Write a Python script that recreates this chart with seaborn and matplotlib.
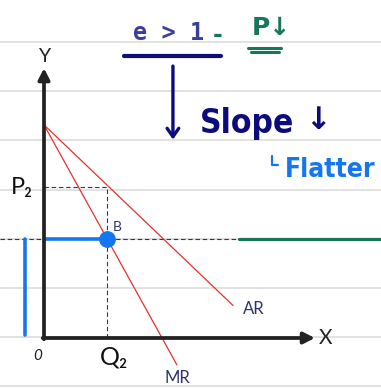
import numpy as np
import pandas as pd
import seaborn as sns
import matplotlib.pyplot as plt

sns.set_theme(style="white")
plt.rcParams['font.family'] = ['DejaVu Sans']

# Revenue curves (quantity, price)
ar_q = [0.0, 9.0]
ar_p = [10.15, 1.55]
mr_q = [0.0, 6.33]
mr_p = [10.15, -1.28]

# Equilibrium point B
q2 = 3.0
p2 = 7.2
p_b = 4.7

# Notebook ruling (price units)
ruling = [14.1, 11.76, 9.43, 7.05, 4.71, 2.38, 0.05, -2.29]

NAVY = "#2b3470"
INK = "#0c0c7c"
GREEN = "#17755a"
BLUE = "#1477f0"
RED = "#e8302c"
AXIS = "#222222"

fig = plt.figure(figsize=(3.81, 3.89), dpi=100)
ax = fig.add_axes([0, 0, 1, 1])
U = 21.0  # pixels per unit
ax.set_xlim(-44 / U, 337 / U)
ax.set_ylim(-51 / U, 338 / U)
ax.axis("off")

for y in ruling:
    ax.axhline(y, color="#d9d9d9", lw=1.1, zorder=0)

# AR and MR lines
ar = pd.DataFrame({"Q": ar_q, "P": ar_p})
mr = pd.DataFrame({"Q": mr_q, "P": mr_p})
sns.lineplot(data=ar, x="Q", y="P", color=RED, lw=0.9, ax=ax, zorder=3)
sns.lineplot(data=mr, x="Q", y="P", color=RED, lw=0.9, ax=ax, zorder=3)

# guide lines
ax.plot([0, q2], [p2, p2], color=NAVY, lw=0.8, dashes=(4, 2.5), zorder=2)
ax.plot([q2, q2], [0, p2], color=NAVY, lw=0.8, dashes=(4, 2.5), zorder=2)
ax.plot([-44 / U, 9.3], [p_b, p_b], color=NAVY, lw=0.8, dashes=(4, 2.5), zorder=2)
ax.plot([9.3, 337 / U], [p_b, p_b], color=GREEN, lw=2.3, solid_capstyle="round", zorder=2)

# highlighted price at B
ax.plot([0, q2], [p_b, p_b], color=BLUE, lw=2.6, solid_capstyle="butt", zorder=4)
ax.plot([-0.9, -0.9], [p_b, 0.15], color=BLUE, lw=2.6, solid_capstyle="round", zorder=4)
sns.scatterplot(x=[q2], y=[p_b], s=125, color=BLUE, edgecolor=BLUE, ax=ax, zorder=5)

# axes with arrows
arrow = dict(arrowstyle="-|>,head_length=0.55,head_width=0.28", lw=2.7,
             color=AXIS, shrinkA=0, shrinkB=0)
ax.annotate("", xy=(0, 12.85), xytext=(0, -0.06), arrowprops=arrow, zorder=6)
ax.annotate("", xy=(12.9, 0), xytext=(-0.06, 0), arrowprops=arrow, zorder=6)

lab = dict(family=["Lato", "DejaVu Sans"], ha="center", va="center")
ax.text(0.05, 13.4, "Y", fontsize=14, color=AXIS, **lab)
ax.text(13.4, 0.0, "X", fontsize=15, color=AXIS, **lab)
ax.text(-0.3, -0.85, "0", fontsize=11, color=AXIS, style="italic", **lab)
ax.text(3.35, -0.9, "Q\u2082", fontsize=18, color="#111111", **lab)
ax.text(-1.05, 7.15, "P\u2082", fontsize=17, color="#111111", **lab)
ax.text(3.5, 5.3, "B", fontsize=10, color=NAVY, **lab)
ax.text(10.0, 1.38, "AR", fontsize=12, color=NAVY, **lab)
ax.text(6.35, -1.9, "MR", fontsize=12, color=NAVY, **lab)

# notes
ax.text(5.95, 14.5, "e > 1", fontsize=17, color="#3a3f9a", fontweight="bold",
        family=["DejaVu Sans Mono"], ha="center", va="center")
ax.text(8.25, 14.45, "-", fontsize=17, color=GREEN, fontweight="bold", ha="center", va="center")
ax.text(10.85, 14.75, "P\u2193", fontsize=18, color=GREEN, fontweight="bold", ha="center", va="center")
ax.plot([9.7, 11.3], [13.82, 13.82], color=GREEN, lw=2.2, solid_capstyle="round")
ax.plot([9.85, 11.2], [13.6, 13.6], color=GREEN, lw=2.2, solid_capstyle="round")
ax.plot([3.8, 8.43], [13.43, 13.43], color=INK, lw=3.0, solid_capstyle="round")
ax.annotate("", xy=(6.14, 9.45), xytext=(6.14, 12.95),
            arrowprops=dict(arrowstyle="->,head_length=0.5,head_width=0.35", lw=2.4,
                            color=INK, shrinkA=0, shrinkB=0))
ax.text(9.65, 9.75, "Slope", fontsize=24, color=INK, fontweight="bold",
        fontstretch="condensed", ha="center", va="baseline")
ax.text(13.05, 10.35, "\u2193", fontsize=22, color=INK, fontweight="bold", ha="center", va="center")
ax.plot([10.85, 10.85, 11.15], [8.65, 8.25, 8.25], color=BLUE, lw=1.6, solid_capstyle="round")
ax.text(11.45, 8.0, "Flatter", fontsize=19, color=BLUE, fontweight="bold",
        fontstretch="condensed", ha="left", va="center")

fig.savefig("out.png", dpi=100)
